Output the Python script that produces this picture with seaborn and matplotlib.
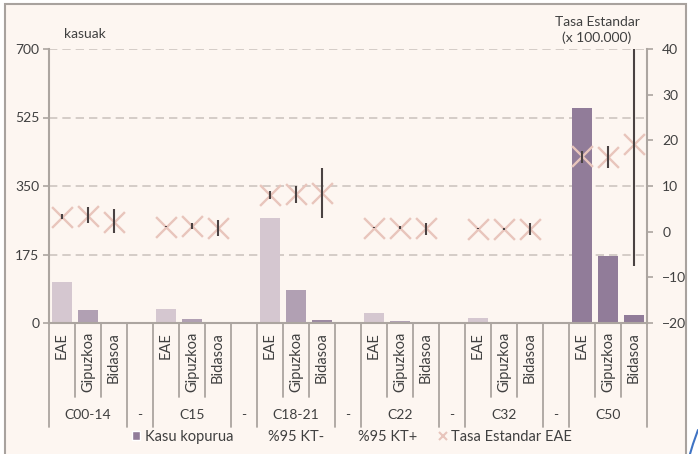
import pandas as pd
import matplotlib.pyplot as plt
import matplotlib.transforms as mtransforms
from matplotlib.patches import Rectangle, Patch
from matplotlib.lines import Line2D
import seaborn as sns

# data
groups = ['C00-14', 'C15', 'C18-21', 'C22', 'C32', 'C50']
regions = ['EAE', 'Gipuzkoa', 'Bidasoa']

# case counts (left axis)
kasu_eae = [105, 36, 268, 26, 13, 550]
kasu_gip = [33, 10, 84, 5, 2, 171]
kasu_bid = [2, 0.5, 8, 0.5, 0, 20]

# standard rate x 100.000 (right axis)
tasa_eae = [3.3, 1.1, 8.1, 0.9, 0.6, 16.5]
tasa_gip = [3.4, 1.2, 8.2, 0.9, 0.6, 16.3]
tasa_bid = [2.2, 0.9, 8.5, 0.9, 0.6, 19.3]

# 95% confidence interval
kt_min_eae = [2.8, 1.0, 7.2, 0.8, 0.5, 15.0]
kt_max_eae = [3.9, 1.2, 9.0, 1.0, 0.7, 17.6]
kt_min_gip = [1.8, 0.6, 6.3, 0.6, 0.4, 13.9]
kt_max_gip = [5.3, 1.9, 10.1, 1.2, 0.8, 18.7]
kt_min_bid = [-0.4, -0.9, 3.0, -0.8, -0.8, -7.6]
kt_max_bid = [5.0, 2.5, 14.0, 1.9, 1.8, 40.0]

kasu = {'EAE': kasu_eae, 'Gipuzkoa': kasu_gip, 'Bidasoa': kasu_bid}
tasa = {'EAE': tasa_eae, 'Gipuzkoa': tasa_gip, 'Bidasoa': tasa_bid}
kt_min = {'EAE': kt_min_eae, 'Gipuzkoa': kt_min_gip, 'Bidasoa': kt_min_bid}
kt_max = {'EAE': kt_max_eae, 'Gipuzkoa': kt_max_gip, 'Bidasoa': kt_max_bid}

# slot order with an empty "-" slot between groups
order = []
rows = []
for gi, g in enumerate(groups):
    for r in regions:
        slot = f'{g}|{r}'
        order.append(slot)
        rows.append({'slot': slot, 'group': g, 'region': r,
                     'kasu': kasu[r][gi], 'tasa': tasa[r][gi],
                     'lo': kt_min[r][gi], 'hi': kt_max[r][gi]})
    if gi < len(groups) - 1:
        order.append(f'gap{gi}')
df = pd.DataFrame(rows)
df['pos'] = df['slot'].map({s: i for i, s in enumerate(order)})

bar_colors = {'EAE': '#d5c7d0', 'Gipuzkoa': '#b1a0b3', 'Bidasoa': '#9c89a2'}
dark = '#917c99'
pal = {row.slot: (dark if row.group == 'C50' else bar_colors[row.region])
       for row in df.itertuples()}

cream = '#fdf6f1'
axis_col = '#aca5a0'
text_col = '#404040'

sns.set_theme(style='white')
plt.rcParams['font.family'] = ['Lato', 'DejaVu Sans']
plt.rcParams['font.size'] = 10
plt.rcParams['text.color'] = text_col

W, H = 698, 454
fig = plt.figure(figsize=(W / 100, H / 100), dpi=100, facecolor='white')
fig.add_artist(Rectangle((5 / W, -0.05), (686 - 5) / W, 1.05 - 4 / H,
                         transform=fig.transFigure, facecolor=cream,
                         edgecolor='#a8a29e', lw=1.5, zorder=-10))
# stray connector line in the bottom-right corner of the source image
fig.add_artist(Line2D([690 / W, 693 / W, 698 / W], [0, 10 / H, 24 / H],
                      transform=fig.transFigure, color='#3f73c4', lw=1.5))
fig.subplots_adjust(left=49 / W, right=647 / W, top=1 - 49 / H, bottom=1 - 323 / H)
ax = fig.add_subplot(111)
ax.set_facecolor('none')

sns.barplot(data=df, x='slot', y='kasu', order=order, hue='slot', palette=pal,
            legend=False, width=0.8, saturation=1, linewidth=0, ax=ax)
ax.set_xlim(-0.5, len(order) - 0.5)
ax.set_ylim(0, 700)
ax.set_yticks([0, 175, 350, 525, 700])
ax.set_xticks([])
ax.set_xlabel('')
ax.set_ylabel('')
ax.yaxis.grid(True, color='#cdc5c0', linestyle=(0, (5, 3)), lw=1.2)
ax.set_axisbelow(True)
for s in ['top', 'right']:
    ax.spines[s].set_visible(False)
for s in ['left', 'bottom']:
    ax.spines[s].set_color(axis_col)
    ax.spines[s].set_linewidth(1.5)
ax.tick_params(axis='y', left=True, length=4, width=1.2, color=axis_col,
               labelsize=10, labelcolor=text_col, pad=3)

ax2 = ax.twinx()
sns.scatterplot(data=df, x='pos', y='tasa', marker='x', s=225, color='#e8c5bc',
                linewidth=1.7, legend=False, zorder=3, ax=ax2)
ax2.vlines(df['pos'], df['lo'], df['hi'], color='#4a4242', lw=1.5, zorder=4,
           clip_on=False)
ax2.set_xlim(-0.5, len(order) - 0.5)
ax2.set_ylim(-20, 40)
ax2.set_yticks(range(-20, 41, 10))
ax2.set_xlabel('')
ax2.set_ylabel('')
for s in ['top', 'left', 'bottom']:
    ax2.spines[s].set_visible(False)
ax2.spines['right'].set_color(axis_col)
ax2.spines['right'].set_linewidth(1.5)
ax2.tick_params(axis='y', right=True, length=4, width=1.2, color=axis_col,
                labelsize=10, labelcolor=text_col, pad=7)

# multi-level category axis
trans = mtransforms.blended_transform_factory(ax.transData, ax.transAxes)
ah = 323 - 49
for row in df.itertuples():
    ax.text(row.pos, -9 / ah, row.region, transform=trans, rotation=90,
            ha='center', va='top', fontsize=10.5, color=text_col)
for gi, g in enumerate(groups):
    mid = df.loc[df['group'] == g, 'pos'].mean()
    ax.text(mid, -92 / ah, g, transform=trans, ha='center', va='center',
            fontsize=10, color=text_col)
    if gi < len(groups) - 1:
        ax.text(order.index(f'gap{gi}'), -92 / ah, '-', transform=trans,
                ha='center', va='center', fontsize=10, color=text_col)
for b in range(len(order) + 1):
    left = order[b - 1] if b > 0 else 'gap'
    right = order[b] if b < len(order) else 'gap'
    full = left.startswith('gap') or right.startswith('gap')
    yend = -104 / ah if full else -74 / ah
    ax.plot([b - 0.5, b - 0.5], [0, yend], transform=trans, clip_on=False,
            color=axis_col, lw=1.3)

fig.text(85 / W, 1 - 34 / H, 'kasuak', ha='center', va='center', fontsize=10)
fig.text(597 / W, 1 - 30 / H, 'Tasa Estandar\n(x 100.000)', ha='center',
         va='center', fontsize=10, linespacing=1.35)

handles = [Patch(facecolor=dark, label='Kasu kopurua'),
           Line2D([], [], linestyle='none', label='%95 KT-'),
           Line2D([], [], linestyle='none', label='%95 KT+'),
           Line2D([], [], marker='x', color='#e8c5bc', linestyle='none',
                  markersize=6, mew=1.5, label='Tasa Estandar EAE')]
fig.legend(handles=handles, ncol=4, loc='center', bbox_to_anchor=(352 / W, 1 - 437 / H),
           frameon=False, handlelength=0.6, handleheight=0.6, handletextpad=0.3,
           columnspacing=1.45, fontsize=10.5)

fig.savefig('out.png', dpi=100, facecolor='white')
